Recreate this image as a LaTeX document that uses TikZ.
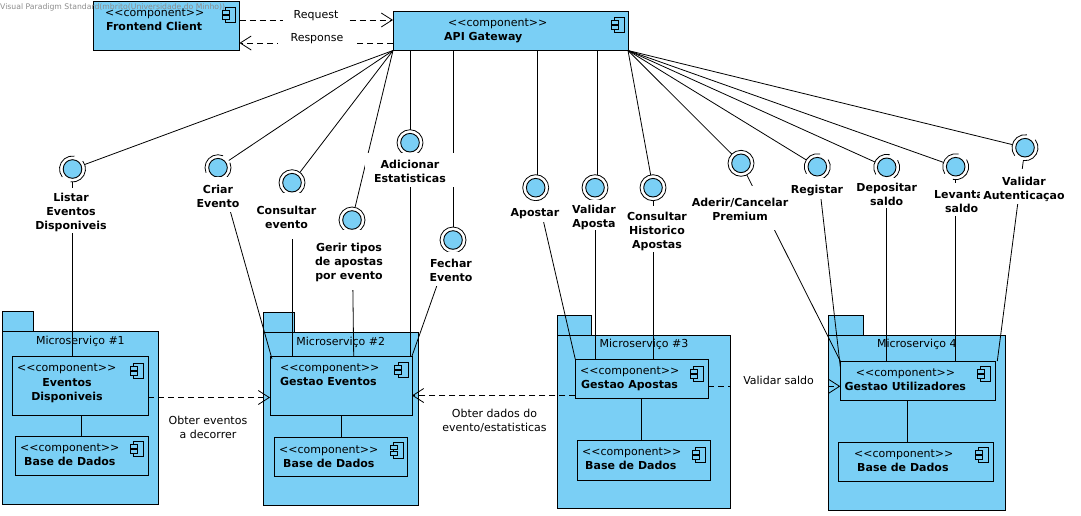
\documentclass[tikz,border=0pt]{standalone}
\usepackage{fontspec}
\setmainfont{DejaVu Sans}
\usetikzlibrary{arrows.meta}
\definecolor{compblue}{RGB}{122,207,245}
\newcommand{\stereo}{<\kern0pt<component>\kern0pt>}
\newcommand{\linestrut}{\rule[-2.4pt]{0pt}{14pt}}
\newcommand{\firstln}{\rule{0pt}{13.6pt}}
\tikzset{
  pkgbox/.style={draw,fill=compblue,line width=0.9pt,inner sep=0pt,outer sep=0pt},
  compbox/.style={draw,fill=compblue,line width=0.9pt,inner sep=0pt,outer sep=0pt},
  plaintxt/.style={inner sep=0pt,align=center,font=\fontsize{11}{14}\selectfont,
    execute at begin node=\linestrut,execute at end node=\linestrut},
  nametxt/.style={plaintxt,font=\fontsize{11}{14}\selectfont\bfseries},
  ifclabel/.style={nametxt,fill=white,inner xsep=3pt},
  linklabel/.style={plaintxt,fill=white},
  ifc/.style={circle,inner sep=0pt,outer sep=0pt,minimum size=26pt},
  conn/.style={line width=0.8pt},
  dep/.style={line width=0.8pt,dash pattern=on 6pt off 4pt,-{Straight Barb[length=11pt,width=14pt]}},
  compicon/.pic={
    \draw[line width=0.8pt,fill=compblue] (3.5,0) rectangle (13.5,15.5);
    \draw[line width=0.8pt,fill=compblue] (0,3) rectangle (7,7);
    \draw[line width=0.8pt,fill=compblue] (0,8.5) rectangle (7,12.5);
  }
}

\begin{document}
\begin{tikzpicture}[x=1pt,y=-1pt]
  \useasboundingbox (0,0) rectangle (1081,515);
  % packages
  \foreach \nm/\x/\y/\w/\h/\tw/\txt in {pkgA/80.4/417.75/156.2/172.5/31/{Microserviço \#1},
      pkgB/340.75/418.9/154.5/172.8/31/{Microserviço \#2},
      pkgC/644/421.85/173.4/173.7/34.4/{Microserviço \#3},
      pkgD/916.8/422.65/177/175.3/35/{Microserviço 4}} {
    \node[pkgbox,minimum width=\w pt,minimum height=\h pt] (\nm) at (\x,\y) {};
    \node[pkgbox,minimum width=\tw pt,minimum height=20pt,anchor=south west] (\nm tab) at (\nm.north west) {};
    \node[plaintxt,anchor=north,yshift=-1pt] (\nm title) at (\nm.north) {\txt};
  }
  % components
  \foreach \nm/\x/\y/\w/\h/\sx/\nx/\ix/\iy/\txt in {
      front/166.25/25.75/146.5/49.5/105/106/222/6/{Frontend Client},
      gw/510.5/30.75/235/39.5/448/444/611/6/{API Gateway},
      baseA/81.8/455.5/133/39/20/24/130/5/{Base de Dados},
      gestEv/341/385.75/142/59.5/280/280/394.5/6/{Gestao Eventos},
      baseB/341/456.75/133/38.5/279/283/390/5/{Base de Dados},
      gestAp/641.8/378.8/133/39/580/581/690/7/{Gestao Apostas},
      baseC/643.8/460.5/133/40.4/582/585/692/7/{Base de Dados},
      gestUt/917.8/380.5/155/39/855.7/844.5/977/5/{Gestao Utilizadores},
      baseD/916/462/155.4/39.4/854/857/975/5/{Base de Dados}} {
    \node[compbox,minimum width=\w pt,minimum height=\h pt] (\nm) at (\x,\y) {};
    \pgfmathsetmacro{\topy}{\y-\h/2}
    \node[plaintxt,anchor=west] (\nm stereo) at (\sx,\topy+11) {\stereo};
    \node[nametxt,anchor=west] (\nm name) at (\nx,\topy+25) {\txt};
    \pic at (\ix,\topy+\iy) {compicon};
  }
  \node[compbox,minimum width=136pt,minimum height=59.3pt] (evDisp) at (80.3,385.65) {};
  \node[plaintxt,anchor=west] (evDisp stereo) at (17,367) {\stereo};
  \node[nametxt] (evDisp name) at (67,388) {\firstln Eventos\\Disponiveis};
  \pic at (130,363) {compicon};
  % interfaces
  \foreach \nm/\x/\y/\g/\gw in {ifListar/72.5/169/120/22,ifCriar/218/167.7/135/22,ifConsEv/292/182.7/0/0,
      ifGerir/352/220/0/0,ifAdic/410/142.7/0/0,ifFechar/453/240/0/0,ifApostar/535.7/187.7/0/0,
      ifValidar/595/187.7/0/0,ifConsHist/653/187.7/0/0,ifAderir/741/163.3/0/0,
      ifRegistar/817.3/166.7/125/22,ifDeposit/886.7/167.3/125/22,ifLevantar/955.7/166.7/125/22,
      ifAutent/1025/147.7/120/22} {
    \node[ifc] (\nm) at (\x,\y) {};
    \draw[line width=0.8pt] (\nm.center) ++(\g+\gw:13) arc[start angle=\g+\gw,end angle=\g+180-\gw,radius=13];
    \draw[line width=0.8pt] (\nm.center) ++(\g+180+\gw:13) arc[start angle=\g+180+\gw,end angle=\g+360-\gw,radius=13];
    \draw[line width=0.9pt,fill=compblue] (\nm.center) circle (9.3);
  }
  % gateway side
  \coordinate (gwApostar) at (537.7,50.5);
  \coordinate (gwValidar) at (597,50.5);
  \foreach \nm in {ifListar,ifCriar,ifConsEv,ifGerir}
    \draw[conn] (gw.south west) -- (\nm);
  \foreach \nm in {ifConsHist,ifAderir,ifRegistar,ifDeposit,ifLevantar,ifAutent}
    \draw[conn] (gw.south east) -- (\nm);
  \draw[conn] (ifAdic) -- (ifAdic |- gw.south);
  \draw[conn] (ifFechar) -- (ifFechar |- gw.south);
  \draw[conn] (gwApostar) -- (gwApostar |- ifApostar.north);
  \draw[conn] (gwValidar) -- (gwValidar |- ifValidar.north);
  % service side
  \coordinate (gerirEnd) at (353.7,356);
  \draw[conn] (ifListar) -- (ifListar |- evDisp.north);
  \draw[conn] (ifCriar) -- ([xshift=2pt,yshift=-3pt]gestEv.north west);
  \draw[conn] (ifConsEv) -- (ifConsEv |- gestEv.north);
  \draw[conn] (ifGerir) -- (gerirEnd);
  \draw[conn] (ifAdic) -- (ifAdic |- gestEv.north);
  \draw[conn] (ifFechar) -- (gestEv.north east);
  \draw[conn] (ifApostar) -- (gestAp.north west);
  \draw[conn] (ifValidar) -- (ifValidar |- gestAp.north);
  \draw[conn] (ifConsHist) -- (ifConsHist |- gestAp.north);
  \draw[conn] (ifAderir) -- (gestUt.north west);
  \draw[conn] (ifRegistar) -- ([yshift=-6pt]gestUt.north west);
  \draw[conn] (ifDeposit) -- (ifDeposit |- gestUt.north);
  \draw[conn] (ifLevantar) -- (ifLevantar |- gestUt.north);
  \draw[conn] (ifAutent) -- ([xshift=2pt]gestUt.north east);
  % inside the services
  \coordinate (utBase) at (907.7,400);
  \draw[conn] (evDisp.south -| baseA.north) -- (baseA.north);
  \draw[conn] (gestEv) -- (baseB);
  \draw[conn] (gestAp.south) -- (gestAp.south |- baseC.north);
  \draw[conn] (utBase) -- (utBase |- baseD.north);
  % dependencies
  \coordinate (reqY) at (0,20);
  \coordinate (respY) at (0,43);
  \coordinate (eventY) at (0,397.5);
  \coordinate (dadosY) at (0,395.5);
  \coordinate (saldoY) at (0,386.3);
  \draw[dep] (front.east |- reqY) -- (gw.west |- reqY);
  \draw[dep] (gw.west |- respY) -- (front.east |- respY);
  \draw[dep] (evDisp.east |- eventY) -- (gestEv.west |- eventY);
  \draw[dep] (gestAp.west |- dadosY) -- (gestEv.east |- dadosY);
  \draw[dep] (gestAp.east |- saldoY) -- (gestUt.west |- saldoY);
  % interface labels
  \foreach \nm/\x/\y/\h/\txt in {lbListar/71/210/45/{Listar\\Eventos\\Disponiveis},
      lbCriar/218/194.5/35/{Criar\\Evento},
      lbConsEv/286.5/216/46/{Consultar\\evento},
      lbGerir/349/260/60/{Gerir tipos\\de apostas\\por evento},
      lbFechar/451/268.5/34/{Fechar\\Evento},
      lbValidar/594/215/30/{Validar\\Aposta},
      lbConsHist/657/229/46/{Consultar\\Historico\\Apostas},
      lbAderir/740/208/44/{Aderir/Cancelar\\Premium},
      lbDeposit/886.7/193/30/{Depositar\\saldo},
      lbLevantar/961.7/199.5/33/{Levantar\\saldo},
      lbAutent/1024/186.5/35/{Validar\\Autenticaçao}}
    \node[ifclabel,minimum height=\h pt] (\nm) at (\x,\y) {\firstln\txt};
  \node[ifclabel,minimum height=21pt] (lbApostar) at (535,211.5) {Apostar};
  \node[ifclabel,minimum height=21pt] (lbRegistar) at (817,188.5) {Registar};
  \node[ifclabel,minimum height=34pt,minimum width=90pt] (lbAdic) at (410,170) {\firstln Adicionar\\Estatisticas};
  % link labels
  \node[linklabel,minimum width=66pt,minimum height=18pt] (lbReq) at (316,14) {Request};
  \node[linklabel,minimum width=78pt,minimum height=18pt] (lbResp) at (317,37) {Response};
  \node[plaintxt] (lbEvent) at (208,426) {\firstln Obter eventos\\a decorrer};
  \node[plaintxt] (lbDados) at (494.5,418.5) {\firstln Obter dados do\\evento/estatisticas};
  \node[linklabel,minimum width=96pt] (lbSaldo) at (778.5,380) {Validar saldo};
  % watermark
  \node[anchor=west,inner sep=0pt,text=black!45,font=\fontsize{7.7}{9}\selectfont] (mark) at (0,7) {Visual Paradigm Standard(mbrito(Universidade do Minho))};
\end{tikzpicture}
\end{document}
